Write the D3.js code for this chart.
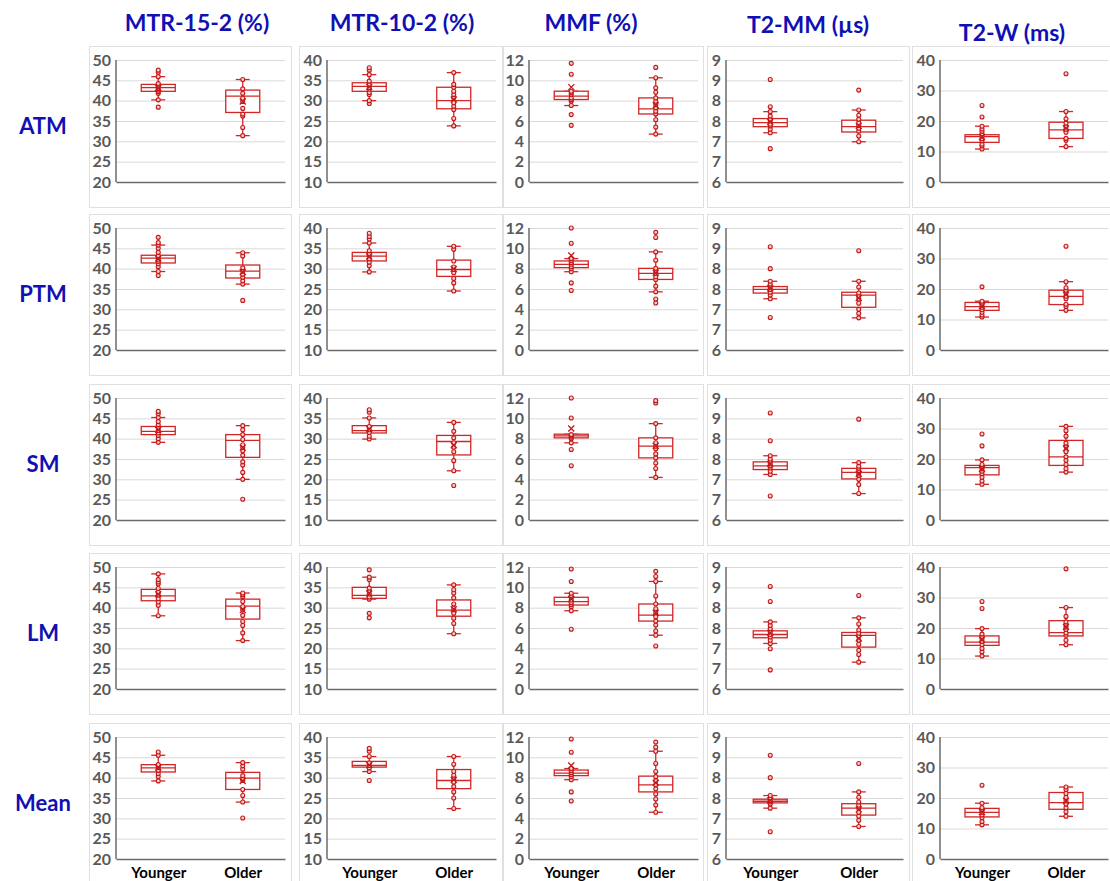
<!DOCTYPE html>
<html>
<head>
<meta charset="utf-8">
<script src="https://cdn.jsdelivr.net/npm/d3@7"></script>
<style>
  body { margin: 0; background: #fff; }
  svg { display: block; font-family: Lato, "Open Sans", sans-serif; }
</style>
</head>
<body>
<svg id="chart" width="1110" height="881"></svg>
<script>
const metrics = ["MTR-15-2 (%)", "MTR-10-2 (%)", "MMF (%)", "T2-MM (\u00b5s)", "T2-W (ms)"];
const regions = ["ATM", "PTM", "SM", "LM", "Mean"];
const groups = ["Younger", "Older"];

const yDomains = [[20, 50], [10, 40], [0, 12], [6, 9], [0, 40]];
const yTicks = [
  [20, 25, 30, 35, 40, 45, 50],
  [10, 15, 20, 25, 30, 35, 40],
  [0, 2, 4, 6, 8, 10, 12],
  [6, 6.5, 7, 7.5, 8, 8.5, 9],
  [0, 10, 20, 30, 40]
];
// Excel rounded the T2-MM labels to whole numbers
const yTickLabels = [
  ["20", "25", "30", "35", "40", "45", "50"],
  ["10", "15", "20", "25", "30", "35", "40"],
  ["0", "2", "4", "6", "8", "10", "12"],
  ["6", "7", "7", "8", "8", "9", "9"],
  ["0", "10", "20", "30", "40"]
];

// per region: [Younger, Older], each [whiskerLow, q1, median, q3, whiskerHigh, mean]
const mtr15Box = [
  [[40.2, 42.3, 43.2, 44.0, 45.9, 43.1], [31.4, 37.1, 41.1, 42.6, 45.2, 39.8]],
  [[39.3, 41.4, 42.6, 43.3, 45.8, 42.5], [36.2, 37.7, 39.4, 40.9, 43.9, 39.2]],
  [[39.1, 41.0, 41.8, 43.0, 45.2, 42.2], [30.0, 35.4, 39.6, 41.0, 43.2, 37.8]],
  [[38.0, 41.7, 42.9, 44.5, 48.3, 43.3], [31.9, 37.2, 40.4, 42.1, 43.6, 39.4]],
  [[39.2, 41.4, 42.4, 43.2, 45.5, 42.5], [34.0, 37.1, 39.9, 41.3, 43.7, 39.2]]
];
const mtr15Pts = [
  [[38.4, 40.2, 41.8, 42.2, 42.6, 43.0, 43.4, 43.8, 44.2, 45.9, 47.0, 47.5], [31.4, 33.4, 36.2, 36.7, 38.1, 39.8, 40.6, 41.8, 42.9, 45.2]],
  [[38.3, 39.3, 40.5, 41.2, 41.8, 42.3, 42.8, 43.1, 44.0, 45.0, 45.8, 46.4, 47.7], [32.2, 36.2, 37.0, 37.9, 38.6, 39.4, 40.2, 43.1, 43.9]],
  [[39.1, 40.0, 40.8, 41.4, 42.0, 42.6, 43.4, 44.2, 45.2, 46.1, 46.7], [25.1, 30.0, 31.7, 33.5, 34.3, 35.9, 37.0, 37.8, 38.5, 39.8, 41.0, 42.2, 43.2]],
  [[38.0, 40.6, 41.4, 42.2, 43.1, 43.8, 44.7, 45.8, 46.3, 46.9, 48.3], [31.9, 33.8, 35.6, 36.6, 38.1, 39.4, 40.3, 41.5, 42.7, 43.2, 43.6]],
  [[39.2, 40.3, 41.0, 41.8, 42.5, 42.9, 43.2, 45.5, 46.3], [30.1, 34.0, 35.6, 37.1, 39.3, 39.8, 40.5, 42.1, 42.9, 43.7]]
];

const mtr10Box = [
  [[30.0, 32.3, 33.5, 34.4, 36.4, 33.4], [23.8, 28.0, 30.0, 33.3, 36.9, 30.3]],
  [[29.2, 31.9, 33.1, 34.0, 36.3, 33.0], [24.5, 28.1, 29.8, 32.1, 35.5, 29.9]],
  [[29.9, 31.4, 32.0, 33.2, 35.1, 32.3], [22.1, 26.0, 29.3, 30.8, 34.0, 28.4]],
  [[32.1, 32.3, 33.0, 35.0, 37.5, 33.5], [23.6, 27.9, 29.4, 31.9, 35.6, 29.6]],
  [[31.5, 32.6, 33.0, 34.0, 35.2, 33.1], [22.4, 27.3, 29.3, 32.0, 35.2, 29.5]]
];
const mtr10Pts = [
  [[29.3, 30.0, 31.5, 32.0, 32.8, 33.2, 34.0, 34.8, 36.4, 37.5, 38.1], [23.8, 25.6, 27.8, 28.6, 29.5, 30.7, 31.5, 32.3, 33.3, 34.0, 36.9]],
  [[29.2, 30.7, 31.6, 32.4, 33.2, 33.6, 34.4, 36.3, 37.3, 37.9, 38.7], [24.5, 26.5, 27.6, 29.0, 29.8, 30.4, 31.9, 34.8, 35.5]],
  [[29.9, 30.6, 31.5, 32.2, 33.0, 35.1, 36.5, 37.1], [18.5, 22.1, 24.6, 26.8, 27.9, 29.0, 30.2, 31.8, 34.0]],
  [[27.5, 28.6, 32.1, 32.6, 33.4, 34.2, 34.8, 36.9, 37.5, 39.3], [23.6, 26.1, 27.4, 28.6, 29.8, 30.9, 32.4, 33.6, 34.4, 35.6]],
  [[29.3, 31.5, 32.4, 33.0, 33.6, 35.2, 36.5, 37.2], [22.4, 25.0, 26.5, 27.8, 28.9, 29.8, 30.6, 31.5, 33.3, 35.2]]
];

const mmfBox = [
  [[7.52, 8.11, 8.44, 8.93, 8.93, 9.33], [4.71, 6.69, 7.19, 8.27, 10.25, 7.55]],
  [[7.70, 8.10, 8.43, 8.76, 8.99, 9.30], [5.72, 6.94, 7.54, 8.03, 9.65, 7.60]],
  [[7.59, 8.08, 8.27, 8.44, 8.44, 9.00], [4.19, 6.11, 7.26, 8.08, 9.48, 7.30]],
  [[7.70, 8.26, 8.60, 9.02, 9.42, 8.85], [5.29, 6.68, 7.27, 8.36, 10.58, 7.50]],
  [[7.80, 8.20, 8.45, 8.75, 8.90, 9.20], [4.60, 6.60, 7.30, 8.15, 10.60, 7.50]]
];
const mmfPts = [
  [[5.57, 6.63, 7.52, 7.94, 8.10, 8.27, 8.60, 8.77, 8.93, 10.6, 11.67], [4.71, 5.40, 6.13, 6.70, 6.95, 7.30, 7.60, 7.94, 8.27, 8.83, 9.26, 10.25, 11.27]],
  [[5.85, 6.60, 7.70, 8.00, 8.20, 8.43, 8.60, 8.80, 8.99, 10.5, 12.0], [4.63, 5.02, 5.72, 6.28, 6.94, 7.20, 7.54, 7.80, 8.03, 8.83, 9.65, 11.07, 11.57]],
  [[5.33, 6.93, 7.59, 8.00, 8.15, 8.27, 8.40, 10.04, 12.0], [4.19, 5.07, 5.60, 6.11, 6.50, 7.00, 7.26, 7.60, 8.08, 9.48, 11.51, 11.74]],
  [[5.88, 7.70, 8.10, 8.30, 8.50, 8.75, 9.00, 9.20, 9.42, 10.58, 11.8], [4.23, 5.29, 5.70, 6.30, 6.68, 7.10, 7.50, 7.90, 8.36, 9.15, 10.58, 11.07, 11.57]],
  [[5.70, 6.60, 7.80, 8.10, 8.30, 8.50, 8.70, 8.90, 10.5, 11.8], [4.60, 5.30, 5.90, 6.40, 6.90, 7.30, 7.70, 8.10, 8.60, 9.40, 10.6, 11.0, 11.5]]
];

const t2mmBox = [
  [[7.21, 7.36, 7.46, 7.56, 7.73, 7.48], [6.99, 7.23, 7.36, 7.52, 7.77, 7.38]],
  [[7.26, 7.40, 7.49, 7.56, 7.69, 7.52], [6.79, 7.05, 7.35, 7.42, 7.69, 7.28]],
  [[7.12, 7.24, 7.33, 7.43, 7.58, 7.38], [6.65, 7.01, 7.17, 7.27, 7.41, 7.13]],
  [[7.12, 7.26, 7.34, 7.43, 7.65, 7.38], [6.66, 7.03, 7.32, 7.39, 7.75, 7.24]],
  [[7.25, 7.38, 7.42, 7.47, 7.56, 7.44], [6.80, 7.08, 7.25, 7.36, 7.65, 7.22]]
];
const t2mmPts = [
  [[6.82, 7.21, 7.30, 7.38, 7.42, 7.50, 7.54, 7.62, 7.73, 7.85, 8.52], [6.99, 7.13, 7.25, 7.32, 7.39, 7.46, 7.54, 7.64, 7.77, 8.26]],
  [[6.80, 7.26, 7.35, 7.42, 7.49, 7.55, 7.62, 7.69, 8.00, 8.54], [6.79, 6.90, 7.00, 7.15, 7.25, 7.33, 7.40, 7.55, 7.69, 8.44]],
  [[6.59, 7.12, 7.20, 7.28, 7.33, 7.38, 7.45, 7.50, 7.58, 7.95, 8.63], [6.65, 6.87, 7.00, 7.10, 7.16, 7.22, 7.27, 7.32, 7.41, 8.48]],
  [[6.47, 6.99, 7.12, 7.20, 7.28, 7.34, 7.40, 7.48, 7.56, 7.65, 8.15, 8.52], [6.66, 6.85, 6.95, 7.10, 7.20, 7.30, 7.37, 7.45, 7.60, 7.75, 8.30]],
  [[6.67, 7.25, 7.35, 7.40, 7.44, 7.50, 7.56, 8.00, 8.55], [6.80, 6.95, 7.05, 7.15, 7.25, 7.32, 7.40, 7.52, 7.65, 8.35]]
];

const t2wBox = [
  [[10.8, 13.0, 14.9, 15.5, 18.3, 14.8], [11.6, 14.3, 17.1, 19.6, 23.1, 17.6]],
  [[10.8, 13.0, 14.2, 15.6, 16.0, 14.4], [13.0, 14.9, 17.6, 19.6, 22.4, 18.2]],
  [[11.7, 14.8, 17.2, 17.9, 19.7, 16.8], [15.7, 17.9, 20.7, 26.1, 30.7, 23.5]],
  [[10.8, 14.3, 15.4, 17.4, 19.8, 16.2], [14.5, 17.4, 18.5, 22.4, 26.7, 20.4]],
  [[11.2, 13.8, 15.3, 16.6, 18.3, 15.4], [14.0, 16.3, 18.5, 21.8, 23.6, 19.0]]
];
const t2wPts = [
  [[10.8, 11.8, 12.4, 13.5, 14.2, 15.0, 15.8, 16.6, 17.4, 18.3, 21.3, 25.1], [11.6, 13.7, 14.3, 16.3, 17.3, 18.2, 19.3, 20.7, 23.1, 35.5]],
  [[10.8, 11.5, 12.4, 13.2, 14.0, 14.7, 15.3, 16.0, 20.7], [13.0, 14.3, 15.0, 16.8, 17.6, 18.7, 19.6, 20.4, 22.4, 34.0]],
  [[11.7, 12.8, 14.0, 15.2, 16.0, 16.8, 17.5, 18.2, 19.7, 24.3, 28.2], [15.7, 16.8, 18.2, 19.6, 20.7, 22.4, 24.0, 25.2, 27.5, 29.3, 30.7]],
  [[10.8, 12.2, 13.3, 14.6, 15.6, 16.5, 17.2, 18.0, 19.8, 26.4, 28.7], [14.5, 16.0, 17.6, 18.4, 19.5, 20.3, 21.0, 22.0, 23.8, 26.7, 39.4]],
  [[11.2, 12.3, 13.5, 14.4, 15.3, 16.0, 16.8, 18.3, 24.2], [14.0, 15.5, 16.8, 18.0, 19.0, 20.2, 21.5, 22.8, 23.6]]
];

const boxData = [mtr15Box, mtr10Box, mmfBox, t2mmBox, t2wBox];
const ptsData = [mtr15Pts, mtr10Pts, mmfPts, t2mmPts, t2wPts];

const svg = d3.select('#chart');
const RED = '#d22626', DOT = '#c41818', BLUE = '#1010b4';
const AXIS = '#6b6b6b', GRID = '#d9d9d9', LABEL = '#595959';

// panel layout
const frameX = [89, 299, 503, 707, 912],
      frameW = [202, 203, 200, 202, 198];
const axisX = [116, 327, 529, 726, 940],
      plotRight = [285, 496, 698, 903, 1108];
const plotTop = [60, 228, 398, 567, 737],
      plotH = 122;
const titleX = [197, 402, 591, 808, 1012],
      titleY = [31, 31, 31, 33, 41];

metrics.forEach((m, c) => {
  svg.append('text')
    .attr('x', titleX[c])
    .attr('y', titleY[c])
    .attr('text-anchor', 'middle')
    .attr('font-size', 23)
    .attr('font-weight', 'bold')
    .attr('fill', BLUE)
    .text(m);
});

regions.forEach((reg, r) => {
  svg.append('text')
    .attr('x', 43)
    .attr('y', plotTop[r] + 74)
    .attr('text-anchor', 'middle')
    .attr('font-size', 22)
    .attr('font-weight', 'bold')
    .attr('fill', BLUE)
    .text(reg);
  metrics.forEach((m, c) => drawPanel(r, c));
});

function drawPanel(r, c) {
  const w = plotRight[c] - axisX[c];

  svg.append('rect')
    .attr('x', frameX[c] + 0.5)
    .attr('y', plotTop[r] - 14 + 0.5)
    .attr('width', frameW[c])
    .attr('height', 161)
    .attr('fill', '#fff')
    .attr('stroke', '#e0e0e0');

  const g = svg.append('g')
    .attr('transform', `translate(${axisX[c]},${plotTop[r]})`);

  const y = d3.scaleLinear().domain(yDomains[c]).range([plotH, 0]);
  const x = d3.scalePoint().domain(groups).range([0, w]).padding(0.5);

  // gridlines
  g.append('g')
    .call(d3.axisLeft(y).tickValues(yTicks[c]).tickSize(-w).tickFormat(''))
    .call(s => s.select('.domain').remove())
    .call(s => s.selectAll('line').attr('stroke', GRID));

  // tick labels
  g.append('g')
    .call(d3.axisLeft(y).tickValues(yTicks[c]).tickSize(0).tickPadding(5)
      .tickFormat((d, i) => yTickLabels[c][i]))
    .call(s => s.select('.domain').remove())
    .call(s => s.selectAll('text')
      .attr('fill', LABEL)
      .attr('font-size', 16)
      .attr('font-weight', 'bold')
      .attr('font-family', 'Lato, sans-serif'));

  // y axis line
  g.append('line')
    .attr('x1', 0).attr('x2', 0)
    .attr('y1', 0).attr('y2', plotH)
    .attr('stroke', AXIS).attr('stroke-width', 1.5);

  // x axis
  const xa = g.append('g')
    .attr('transform', `translate(0,${plotH})`)
    .call(d3.axisBottom(x).tickSize(0).tickSizeOuter(0).tickPadding(8));
  xa.select('.domain').attr('stroke', AXIS).attr('stroke-width', 1.5);
  if (r === regions.length - 1) {
    xa.selectAll('text')
      .attr('fill', '#000')
      .attr('font-size', 15)
      .attr('font-weight', 'bold')
      .attr('font-family', 'Lato, sans-serif');
  } else {
    xa.selectAll('text').remove();
  }

  const bw = 34, cap = 7;
  groups.forEach((grp, i) => {
    const [lo, q1, med, q3, hi, mean] = boxData[c][r][i];
    const cx = x(grp);
    const b = g.append('g');

    b.append('line')
      .attr('x1', cx).attr('x2', cx)
      .attr('y1', y(q3)).attr('y2', y(hi))
      .attr('stroke', RED).attr('stroke-width', 1.3);
    b.append('line')
      .attr('x1', cx).attr('x2', cx)
      .attr('y1', y(q1)).attr('y2', y(lo))
      .attr('stroke', RED).attr('stroke-width', 1.3);
    [lo, hi].forEach(v => {
      b.append('line')
        .attr('x1', cx - cap).attr('x2', cx + cap)
        .attr('y1', y(v)).attr('y2', y(v))
        .attr('stroke', RED).attr('stroke-width', 1.3);
    });

    b.append('rect')
      .attr('x', cx - bw / 2)
      .attr('y', y(q3))
      .attr('width', bw)
      .attr('height', y(q1) - y(q3))
      .attr('fill', '#fff')
      .attr('stroke', RED).attr('stroke-width', 1.3);
    b.append('line')
      .attr('x1', cx - bw / 2).attr('x2', cx + bw / 2)
      .attr('y1', y(med)).attr('y2', y(med))
      .attr('stroke', RED).attr('stroke-width', 1.3);

    b.selectAll('circle')
      .data(ptsData[c][r][i])
      .join('circle')
      .attr('cx', cx)
      .attr('cy', d => y(d))
      .attr('r', 2)
      .attr('fill', '#f6d0d0')
      .attr('stroke', DOT)
      .attr('stroke-width', 1.1);

    const my = y(mean), s = 3;
    b.append('path')
      .attr('d', `M${cx - s},${my - s}L${cx + s},${my + s}M${cx - s},${my + s}L${cx + s},${my - s}`)
      .attr('stroke', DOT).attr('stroke-width', 1.3);
  });
}
</script>
</body>
</html>
